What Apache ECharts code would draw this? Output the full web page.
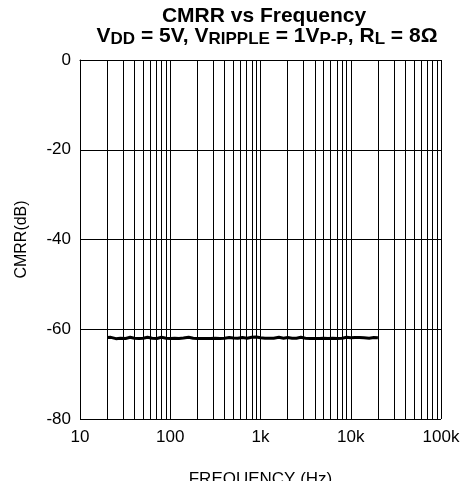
<!DOCTYPE html>
<html>
<head>
<meta charset="utf-8">
<script src="https://cdn.jsdelivr.net/npm/echarts@6/dist/echarts.min.js"></script>
<style>
  html, body { margin: 0; padding: 0; background: #fff; }
  #chart { width: 461px; height: 481px; }
</style>
</head>
<body>
<div id="chart"></div>
<script>
// frequency points (Hz) and CMRR (dB)
var freq = [20, 22, 25, 28, 32, 36, 40, 45, 50, 56, 63, 71, 80, 90,
  100, 112, 125, 140, 160, 180, 200, 224, 250, 280, 315, 355, 400, 450, 500, 560, 630, 710, 800, 900,
  1000, 1120, 1250, 1400, 1600, 1800, 2000, 2240, 2500, 2800, 3150, 3550, 4000, 4500, 5000, 5600, 6300, 7100, 8000, 9000,
  10000, 11200, 12500, 14000, 16000, 18000, 20000];
var cmrr = [-61.85, -61.8, -62.1, -62.0, -62.05, -61.8, -62.0, -62.05, -62.0, -61.8, -62.0, -62.05, -61.8, -62.0,
  -62.05, -62.0, -62.05, -61.95, -61.8, -62.0, -62.05, -62.05, -62.05, -62.05, -62.0, -62.05, -62.0, -61.85, -61.95, -62.0, -61.85, -62.0, -61.8, -61.75,
  -61.9, -62.0, -62.0, -62.0, -61.8, -62.0, -61.85, -62.0, -62.0, -61.8, -62.0, -62.05, -62.05, -62.05, -62.0, -62.05, -62.0, -62.05, -62.0, -61.8,
  -61.9, -61.85, -61.85, -61.9, -62.0, -61.85, -61.9];

// x axis decade labels
var xTickValues = [10, 100, 1000, 10000, 100000];
var xTickLabels = ['10', '100', '1k', '10k', '100k'];
// minor grid lines inside each decade
var xMinor = [20, 30, 40, 50, 60, 70, 80, 90,
  200, 300, 400, 500, 600, 700, 800, 900,
  2000, 3000, 4000, 5000, 6000, 7000, 8000, 9000,
  20000, 30000, 40000, 50000, 60000, 70000, 80000, 90000];

var FONT = 'Liberation Sans, Arial, Helvetica, sans-serif';

var chart = echarts.init(document.getElementById('chart'));

var lineData = [];
for (var i = 0; i < freq.length; i++) lineData.push([freq[i], cmrr[i]]);

var minorLines = [];
for (var j = 0; j < xMinor.length; j++) minorLines.push({ xAxis: xMinor[j] });

var option = {
  backgroundColor: '#fff',
  animation: false,
  textStyle: { fontFamily: FONT },
  graphic: [
    {
      type: 'text', x: 264, y: 6,
      style: {
        text: 'CMRR vs Frequency', textAlign: 'center', verticalAlign: 'top',
        font: 'bold 21px ' + FONT, fill: '#000'
      }
    },
    {
      type: 'text', x: 267, y: 24,
      style: {
        text: '{m|V}{s|DD}{m| = 5V, V}{s|RIPPLE}{m| = 1V}{s|P-P}{m|, R}{s|L}{m| = 8Ω}',
        textAlign: 'center', verticalAlign: 'top', fill: '#000',
        rich: {
          m: { fontFamily: FONT, fontWeight: 'bold', fontSize: 21, lineHeight: 24, verticalAlign: 'middle', fill: '#000' },
          s: { fontFamily: FONT, fontWeight: 'bold', fontSize: 17, lineHeight: 17, verticalAlign: 'bottom', fill: '#000' }
        }
      }
    }
  ],
  grid: { left: 80, right: 20, top: 60, bottom: 62, outerBoundsMode: 'none', containLabel: false },
  xAxis: {
    type: 'log', logBase: 10, min: 10, max: 100000,
    name: 'FREQUENCY (Hz)', nameLocation: 'middle', nameGap: 52,
    nameTextStyle: { fontSize: 17, color: '#000', fontFamily: FONT },
    axisLine: { lineStyle: { color: '#000', width: 1 } },
    axisTick: { show: false },
    axisLabel: {
      fontSize: 17, color: '#000', margin: 10, fontFamily: FONT,
      formatter: function (v) {
        var k = xTickValues.indexOf(Math.round(v));
        return k >= 0 ? xTickLabels[k] : '';
      }
    },
    splitLine: { show: true, lineStyle: { color: '#000', width: 1 } }
  },
  yAxis: {
    type: 'value', min: -80, max: 0, interval: 20,
    name: 'CMRR(dB)', nameLocation: 'middle', nameGap: 50,
    nameTextStyle: { fontSize: 16, color: '#000', fontFamily: FONT },
    axisLine: { show: true, lineStyle: { color: '#000', width: 1 } },
    axisTick: { show: false },
    axisLabel: { fontSize: 17, color: '#000', margin: 9, fontFamily: FONT },
    splitLine: { show: true, lineStyle: { color: '#000', width: 1 } }
  },
  series: [
    {
      type: 'line', data: [], z: 1, silent: true,
      markLine: {
        silent: true, symbol: ['none', 'none'],
        label: { show: false },
        lineStyle: { color: '#000', width: 1, type: 'solid' },
        emphasis: { disabled: true },
        data: minorLines
      }
    },
    {
      name: 'CMRR', type: 'line', data: lineData, z: 3,
      showSymbol: false, symbol: 'none',
      lineStyle: { color: '#000', width: 3 }
    }
  ]
};

chart.setOption(option);
</script>
</body>
</html>
